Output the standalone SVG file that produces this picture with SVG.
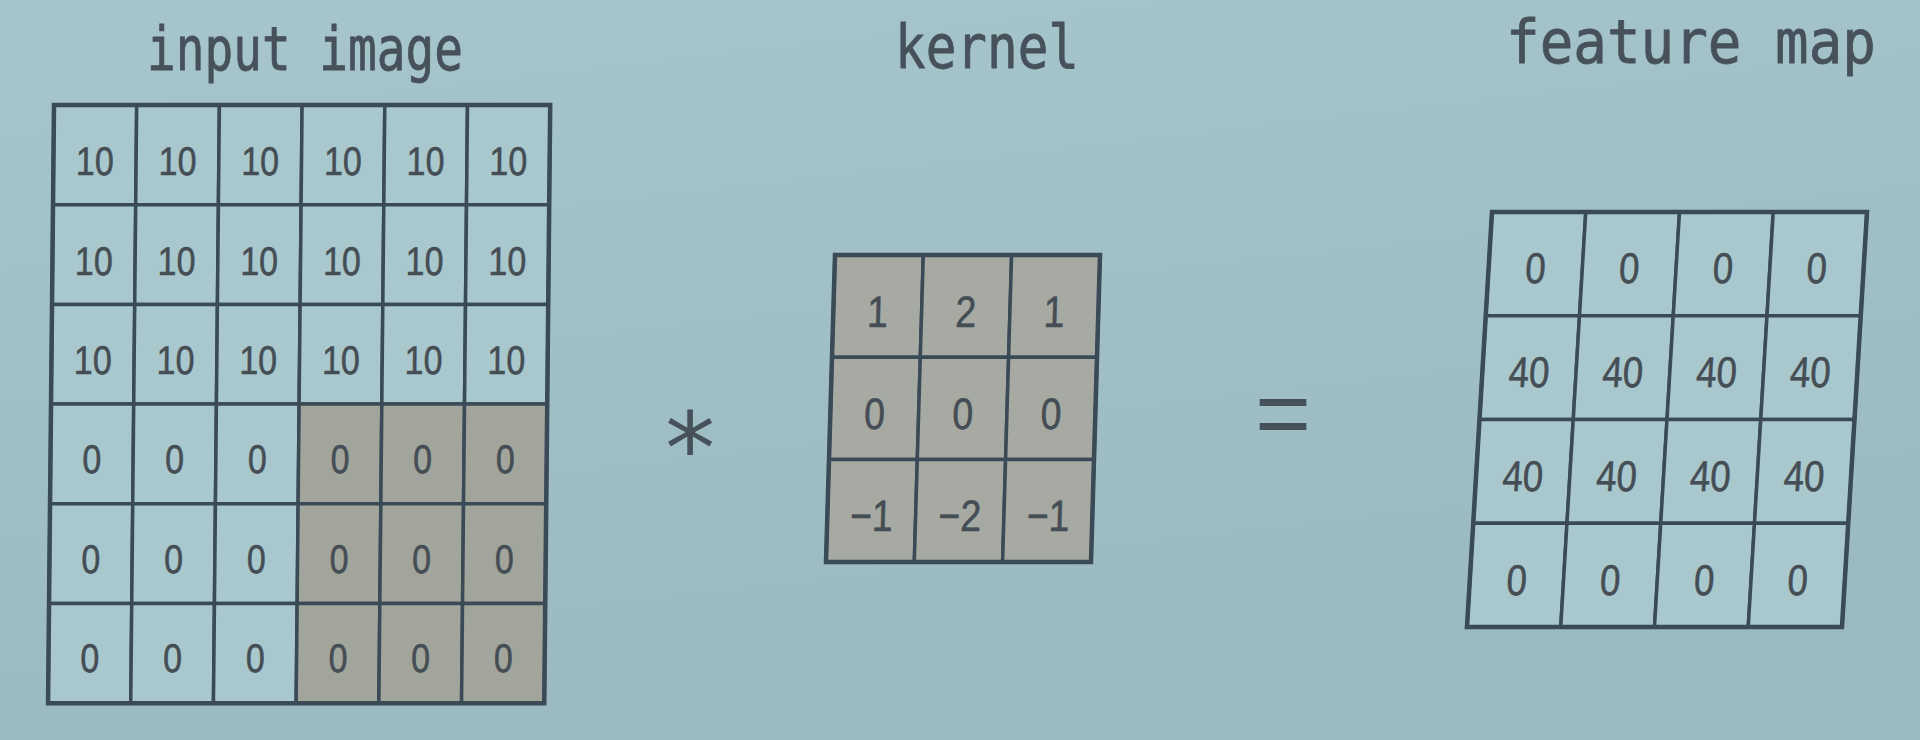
<svg xmlns="http://www.w3.org/2000/svg" width="1920" height="740" viewBox="0 0 1920 740">
<defs>
<linearGradient id="bg" x1="0" y1="0" x2="0.3" y2="1">
<stop offset="0" stop-color="#a6c6cb"/>
<stop offset="1" stop-color="#9abac0"/>
</linearGradient>
</defs>
<style>
.title{font-family:"DejaVu Sans Mono","Liberation Mono",monospace;font-size:60px;fill:#46515b;stroke:#46515b;stroke-width:0.8;text-anchor:middle}
.c{fill:#a9c8cd;stroke:#3b4a57;stroke-width:3.5}
.g{fill:#a2a59b;stroke:#3b4a57;stroke-width:3.5}
.k{fill:#a7aaa2;stroke:#3b4a57;stroke-width:3.5}
.o{fill:none;stroke:#3b4a57;stroke-width:4.5}
.n{font-family:"Liberation Sans",Arial,sans-serif;fill:#454d55;stroke:#454d55;stroke-width:0.6;text-anchor:middle}
.n1{font-size:40px}
.n2{font-size:44px}
.n3{font-size:43px}
.op{fill:#46515b;text-anchor:middle}
</style>
<rect width="1920" height="740" fill="url(#bg)"/>

<g id="titles">
<text class="title" x="305" y="70" textLength="316" lengthAdjust="spacingAndGlyphs">input image</text>
<text class="title" x="987" y="68" textLength="184" lengthAdjust="spacingAndGlyphs">kernel</text>
<text class="title" x="1691" y="63" textLength="370" lengthAdjust="spacingAndGlyphs">feature map</text>
</g>

<g id="input-image" transform="translate(54,105) skewX(-0.57)">
<g>
<rect class="c" x="0" y="0" width="82.7" height="99.7"/><rect class="c" x="82.7" y="0" width="82.7" height="99.7"/><rect class="c" x="165.4" y="0" width="82.7" height="99.7"/><rect class="c" x="248.1" y="0" width="82.7" height="99.7"/><rect class="c" x="330.8" y="0" width="82.7" height="99.7"/><rect class="c" x="413.5" y="0" width="82.7" height="99.7"/>
<rect class="c" x="0" y="99.7" width="82.7" height="99.7"/><rect class="c" x="82.7" y="99.7" width="82.7" height="99.7"/><rect class="c" x="165.4" y="99.7" width="82.7" height="99.7"/><rect class="c" x="248.1" y="99.7" width="82.7" height="99.7"/><rect class="c" x="330.8" y="99.7" width="82.7" height="99.7"/><rect class="c" x="413.5" y="99.7" width="82.7" height="99.7"/>
<rect class="c" x="0" y="199.4" width="82.7" height="99.7"/><rect class="c" x="82.7" y="199.4" width="82.7" height="99.7"/><rect class="c" x="165.4" y="199.4" width="82.7" height="99.7"/><rect class="c" x="248.1" y="199.4" width="82.7" height="99.7"/><rect class="c" x="330.8" y="199.4" width="82.7" height="99.7"/><rect class="c" x="413.5" y="199.4" width="82.7" height="99.7"/>
<rect class="c" x="0" y="299.1" width="82.7" height="99.7"/><rect class="c" x="82.7" y="299.1" width="82.7" height="99.7"/><rect class="c" x="165.4" y="299.1" width="82.7" height="99.7"/><rect class="g" x="248.1" y="299.1" width="82.7" height="99.7"/><rect class="g" x="330.8" y="299.1" width="82.7" height="99.7"/><rect class="g" x="413.5" y="299.1" width="82.7" height="99.7"/>
<rect class="c" x="0" y="398.8" width="82.7" height="99.7"/><rect class="c" x="82.7" y="398.8" width="82.7" height="99.7"/><rect class="c" x="165.4" y="398.8" width="82.7" height="99.7"/><rect class="g" x="248.1" y="398.8" width="82.7" height="99.7"/><rect class="g" x="330.8" y="398.8" width="82.7" height="99.7"/><rect class="g" x="413.5" y="398.8" width="82.7" height="99.7"/>
<rect class="c" x="0" y="498.5" width="82.7" height="99.7"/><rect class="c" x="82.7" y="498.5" width="82.7" height="99.7"/><rect class="c" x="165.4" y="498.5" width="82.7" height="99.7"/><rect class="g" x="248.1" y="498.5" width="82.7" height="99.7"/><rect class="g" x="330.8" y="498.5" width="82.7" height="99.7"/><rect class="g" x="413.5" y="498.5" width="82.7" height="99.7"/>
<rect class="o" x="0" y="0" width="496.2" height="598.2"/>
</g>
<g class="n n1" transform="scale(0.85 1)">
<text x="48.7" y="70">10</text><text x="146" y="70">10</text><text x="243.3" y="70">10</text><text x="340.6" y="70">10</text><text x="437.9" y="70">10</text><text x="535.2" y="70">10</text>
<text x="48.7" y="169.7">10</text><text x="146" y="169.7">10</text><text x="243.3" y="169.7">10</text><text x="340.6" y="169.7">10</text><text x="437.9" y="169.7">10</text><text x="535.2" y="169.7">10</text>
<text x="48.7" y="269.4">10</text><text x="146" y="269.4">10</text><text x="243.3" y="269.4">10</text><text x="340.6" y="269.4">10</text><text x="437.9" y="269.4">10</text><text x="535.2" y="269.4">10</text>
<text x="48.7" y="368">0</text><text x="146" y="368">0</text><text x="243.3" y="368">0</text><text x="340.6" y="368">0</text><text x="437.9" y="368">0</text><text x="535.2" y="368">0</text>
<text x="48.7" y="467.7">0</text><text x="146" y="467.7">0</text><text x="243.3" y="467.7">0</text><text x="340.6" y="467.7">0</text><text x="437.9" y="467.7">0</text><text x="535.2" y="467.7">0</text>
<text x="48.7" y="567.4">0</text><text x="146" y="567.4">0</text><text x="243.3" y="567.4">0</text><text x="340.6" y="567.4">0</text><text x="437.9" y="567.4">0</text><text x="535.2" y="567.4">0</text>
</g>
</g>

<g id="op-convolve">
<text class="op" x="690" y="484" font-size="100" font-family="DejaVu Sans Mono, DejaVu Sans, monospace">*</text>
</g>

<g id="kernel" transform="translate(835,255) skewX(-1.68)">
<g>
<rect class="k" x="0" y="0" width="88.3" height="102.3"/><rect class="k" x="88.3" y="0" width="88.3" height="102.3"/><rect class="k" x="176.6" y="0" width="88.4" height="102.3"/>
<rect class="k" x="0" y="102.3" width="88.3" height="102.3"/><rect class="k" x="88.3" y="102.3" width="88.3" height="102.3"/><rect class="k" x="176.6" y="102.3" width="88.4" height="102.3"/>
<rect class="k" x="0" y="204.6" width="88.3" height="102.4"/><rect class="k" x="88.3" y="204.6" width="88.3" height="102.4"/><rect class="k" x="176.6" y="204.6" width="88.4" height="102.4"/>
<rect class="o" x="0" y="0" width="265" height="307"/>
</g>
<g class="n n2" transform="scale(0.85 1)">
<text x="52" y="72">1</text><text x="155.9" y="72">2</text><text x="259.8" y="72">1</text>
<text x="52" y="174.3">0</text><text x="155.9" y="174.3">0</text><text x="259.8" y="174.3">0</text>
<text x="52" y="276">−1</text><text x="155.9" y="276">−2</text><text x="259.8" y="276">−1</text>
</g>
</g>

<g id="op-equals">
<text class="op" x="1283" y="446" font-size="96" font-family="Liberation Sans, Arial, sans-serif">=</text>
</g>

<g id="feature-map" transform="translate(1492,212) skewX(-3.45)">
<g>
<rect class="c" x="0" y="0" width="93.75" height="103.75"/><rect class="c" x="93.75" y="0" width="93.75" height="103.75"/><rect class="c" x="187.5" y="0" width="93.75" height="103.75"/><rect class="c" x="281.25" y="0" width="93.75" height="103.75"/>
<rect class="c" x="0" y="103.75" width="93.75" height="103.75"/><rect class="c" x="93.75" y="103.75" width="93.75" height="103.75"/><rect class="c" x="187.5" y="103.75" width="93.75" height="103.75"/><rect class="c" x="281.25" y="103.75" width="93.75" height="103.75"/>
<rect class="c" x="0" y="207.5" width="93.75" height="103.75"/><rect class="c" x="93.75" y="207.5" width="93.75" height="103.75"/><rect class="c" x="187.5" y="207.5" width="93.75" height="103.75"/><rect class="c" x="281.25" y="207.5" width="93.75" height="103.75"/>
<rect class="c" x="0" y="311.25" width="93.75" height="103.75"/><rect class="c" x="93.75" y="311.25" width="93.75" height="103.75"/><rect class="c" x="187.5" y="311.25" width="93.75" height="103.75"/><rect class="c" x="281.25" y="311.25" width="93.75" height="103.75"/>
<rect class="o" x="0" y="0" width="375" height="415"/>
</g>
<g class="n n3" transform="scale(0.85 1)">
<text x="55.2" y="71">0</text><text x="165.4" y="71">0</text><text x="275.8" y="71">0</text><text x="386" y="71">0</text>
<text x="55.2" y="175.5">40</text><text x="165.4" y="175.5">40</text><text x="275.8" y="175.5">40</text><text x="386" y="175.5">40</text>
<text x="55.2" y="279.5">40</text><text x="165.4" y="279.5">40</text><text x="275.8" y="279.5">40</text><text x="386" y="279.5">40</text>
<text x="55.2" y="383">0</text><text x="165.4" y="383">0</text><text x="275.8" y="383">0</text><text x="386" y="383">0</text>
</g>
</g>
</svg>
